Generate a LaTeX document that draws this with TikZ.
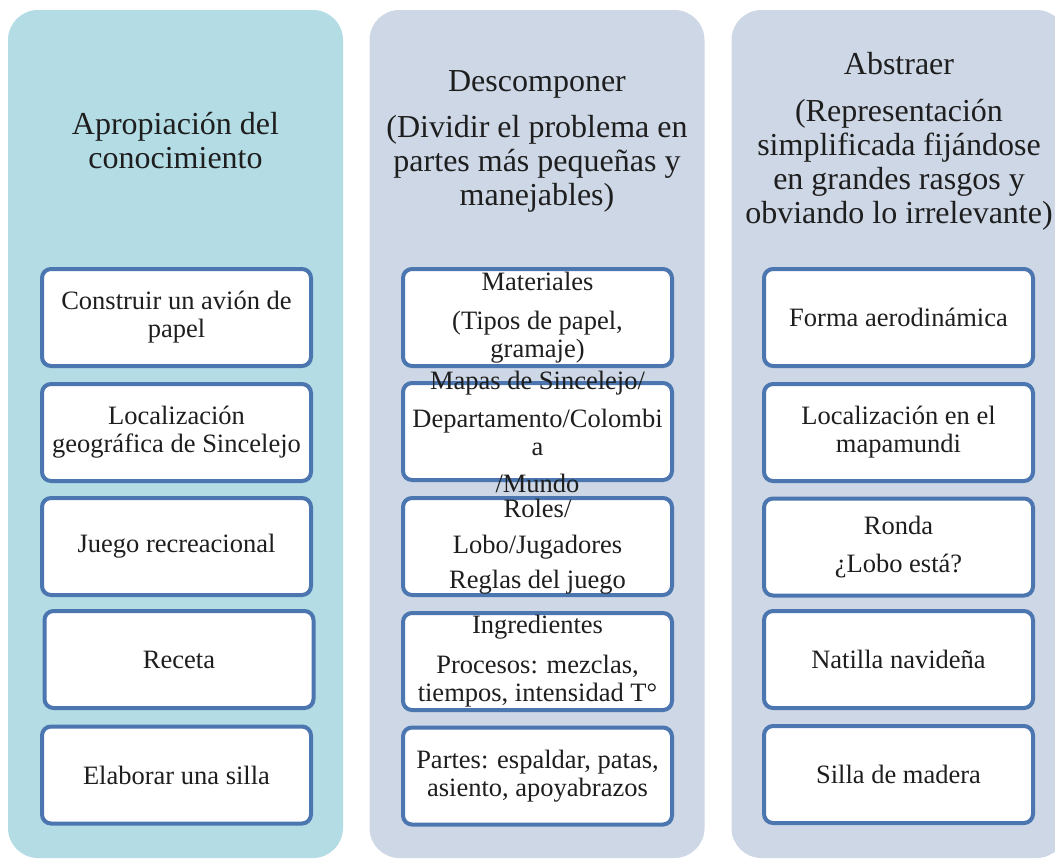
\documentclass[tikz,border=0pt]{standalone}
\usepackage{fontspec}
\setmainfont{Liberation Serif}
\usetikzlibrary{positioning}
\definecolor{colA}{HTML}{B3DCE5}
\definecolor{colB}{HTML}{CDD7E6}
\definecolor{boxline}{HTML}{4B76B0}
\definecolor{txt}{HTML}{1E1E1E}

\begin{document}
\begin{tikzpicture}[x=1pt,y=-1pt,
  colbox/.style={rounded corners=30pt,minimum width=335pt,minimum height=848pt,inner sep=0pt},
  itembox/.style={draw=boxline,fill=white,line width=4pt,rounded corners=9pt,minimum width=269pt,minimum height=97pt,inner sep=0pt},
  itemtext/.style={align=center,text=txt,inner sep=0pt,font=\fontsize{26.5}{28}\selectfont},
  headtext/.style={align=center,text=txt,inner sep=0pt,font=\fontsize{32}{34}\selectfont},
]
\useasboundingbox (0,0) rectangle (1055,860);
\clip (0,0) rectangle (1055,860);
%%
\node (col_0) at (175.5,434) [colbox,fill=colA] {};
  \node (col_1) at (537,434) [colbox,fill=colB] {};
  \node (col_2) at (899,434) [colbox,fill=colB] {};
%
\node (head_0) at (175.5,141) [headtext] {Apropiación del\\conocimiento};
  \node (head_1) at (537,141) [headtext] {Descomponer\\[12pt](Dividir el problema en\\partes más pequeñas y\\manejables)};
  \node (head_2) at (899,141) [headtext] {Abstraer\\[13pt](Representación\\simplificada fijándose\\en grandes rasgos y\\obviando lo irrelevante)};
%
\node (box_0_0) at (176.5,317.5) [itembox] {};
  \node (box_0_1) at (176.5,432.5) [itembox] {};
  \node (box_0_2) at (176.5,546.5) [itembox] {};
  \node (box_0_3) at (179,659.5) [itembox] {};
  \node (box_0_4) at (176.5,775) [itembox] {};
  \node (box_1_0) at (537.5,317.5) [itembox] {};
  \node (box_1_1) at (537.5,431.5) [itembox] {};
  \node (box_1_2) at (537.5,546.5) [itembox] {};
  \node (box_1_3) at (537.5,661.5) [itembox] {};
  \node (box_1_4) at (537.5,776) [itembox] {};
  \node (box_2_0) at (898.5,317.5) [itembox] {};
  \node (box_2_1) at (898.5,432.5) [itembox] {};
  \node (box_2_2) at (898.5,547) [itembox] {};
  \node (box_2_3) at (898.5,659.5) [itembox] {};
  \node (box_2_4) at (898.5,774.5) [itembox] {};
%
\node (txt_0_0) at (box_0_0) [itemtext] {Construir un avión de\\papel};
  \node (txt_0_1) at (box_0_1) [itemtext] {Localización\\geográfica de Sincelejo};
  \node (txt_0_2) at (box_0_2) [itemtext] {Juego recreacional};
  \node (txt_0_3) at (box_0_3) [itemtext] {Receta};
  \node (txt_0_4) at (box_0_4) [itemtext] {Elaborar una silla};
  \node (txt_1_0) at (box_1_0) [itemtext] {Materiales\\[11pt](Tipos de papel,\\gramaje)};
  \node (txt_1_1) at (box_1_1) [itemtext] {Mapas de Sincelejo/\\[10pt]Departamento/Colombi\\a\\[9pt]/Mundo};
  \node (txt_1_2) at (box_1_2) [itemtext] {Roles/\\[8pt]Lobo/Jugadores\\[7pt]Reglas del juego};
  \node (txt_1_3) at (box_1_3) [itemtext] {Ingredientes\\[12pt]Procesos: mezclas,\\tiempos, intensidad T°};
  \node (txt_1_4) at (box_1_4) [itemtext] {Partes: espaldar, patas,\\asiento, apoyabrazos};
  \node (txt_2_0) at (box_2_0) [itemtext] {Forma aerodinámica};
  \node (txt_2_1) at (box_2_1) [itemtext] {Localización en el\\mapamundi};
  \node (txt_2_2) at (box_2_2) [itemtext] {Ronda\\[10pt]¿Lobo está?};
  \node (txt_2_3) at (box_2_3) [itemtext] {Natilla navideña};
  \node (txt_2_4) at (box_2_4) [itemtext] {Silla de madera};
%
\end{tikzpicture}
\end{document}
